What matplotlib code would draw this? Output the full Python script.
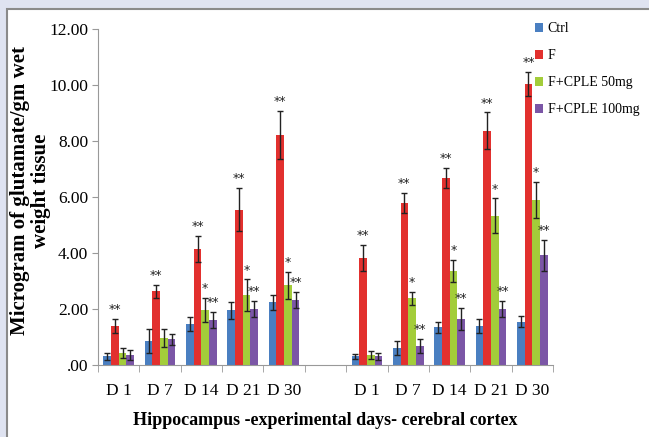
import matplotlib.pyplot as plt
import numpy as np

# days on the x axis, a blank slot separates hippocampus and cortex
days = ["D 1", "D 7", "D 14", "D 21", "D 30", "", "D 1", "D 7", "D 14", "D 21", "D 30"]
groups = ["Ctrl", "F", "F+CPLE 50mg", "F+CPLE 100mg"]

ctrl = [0.31, 0.87, 1.46, 1.96, 2.24, np.nan, 0.31, 0.61, 1.34, 1.40, 1.55]
ctrl_err = [0.12, 0.43, 0.24, 0.30, 0.26, np.nan, 0.10, 0.26, 0.21, 0.24, 0.19]
fluor = [1.40, 2.63, 4.15, 5.55, 8.21, np.nan, 3.82, 5.78, 6.67, 8.36, 10.05]
fluor_err = [0.25, 0.22, 0.46, 0.78, 0.87, np.nan, 0.47, 0.36, 0.36, 0.66, 0.43]
cple50 = [0.42, 0.97, 1.96, 2.49, 2.84, np.nan, 0.36, 2.38, 3.36, 5.33, 5.89]
cple50_err = [0.18, 0.33, 0.43, 0.57, 0.49, np.nan, 0.15, 0.24, 0.38, 0.62, 0.65]
cple100 = [0.36, 0.92, 1.61, 2.00, 2.33, np.nan, 0.31, 0.68, 1.64, 2.00, 3.92]
cple100_err = [0.18, 0.19, 0.29, 0.30, 0.29, np.nan, 0.13, 0.25, 0.39, 0.30, 0.56]

# significance marks
ctrl_sig = [""] * 11
fluor_sig = ["**"] * 5 + [""] + ["**"] * 5
cple50_sig = ["", "", "*", "*", "*", "", "", "*", "*", "*", "*"]
cple100_sig = ["", "", "**", "**", "**", "", "", "**", "**", "**", "**"]

values = [ctrl, fluor, cple50, cple100]
errors = [ctrl_err, fluor_err, cple50_err, cple100_err]
sigs = [ctrl_sig, fluor_sig, cple50_sig, cple100_sig]
colors = ["#4a7fc1", "#e2302e", "#a3cd3a", "#7b56a6"]

serif = ["Liberation Serif", "DejaVu Serif"]

fig = plt.figure(figsize=(6.49, 4.37), dpi=100)
fig.patch.set_facecolor("white")
# lavender strip and gray frame of the original figure
fig.add_artist(plt.Rectangle((0, 0), 1, 1, transform=fig.transFigure,
                             facecolor="#dfe3f1", edgecolor="none", zorder=-3))
fig.add_artist(plt.Rectangle((7 / 649, -0.1), 1.1, 1 - 9 / 437 + 0.1, transform=fig.transFigure,
                             facecolor="white", edgecolor="#8a8a8a", linewidth=1.5, zorder=-2))

ax = fig.add_axes([98 / 649, 1 - 365 / 437, 455 / 649, 336 / 437])
ax.set_facecolor("none")

x = np.arange(len(days))
w = 0.185
for i in range(4):
    pos = x + (i - 1.5) * w
    ax.bar(pos, values[i], w, color=colors[i], label=groups[i],
           yerr=errors[i], capsize=2.5, error_kw=dict(elinewidth=1, ecolor="#222222", capthick=1))
    for p, v, e, s in zip(pos, values[i], errors[i], sigs[i]):
        if s:
            ax.text(p, v + e + 0.1, s, ha="center", va="bottom", fontsize=9,
                    color="#222222", family="DejaVu Sans")

ax.set_xlim(-0.5, len(days) - 0.5)
ax.set_ylim(0, 12)
ax.set_yticks(np.arange(0, 13, 2))
ax.set_yticklabels([".00", "2.00", "4.00", "6.00", "8.00", "10.00", "12.00"],
                   family=serif, fontsize=12.5)
ax.set_xticks(x)
ax.set_xticklabels(days, family=serif, fontsize=12.5)
ax.set_xticks(np.arange(-0.5, len(days)), minor=True)
ax.tick_params(axis="x", which="major", length=0, pad=13)
ax.tick_params(axis="x", which="minor", length=5, color="#999999")
ax.tick_params(axis="y", length=4, color="#999999", pad=3)

for side in ["top", "right"]:
    ax.spines[side].set_visible(False)
for side in ["left", "bottom"]:
    ax.spines[side].set_color("#999999")

ax.set_xlabel("Hippocampus -experimental days- cerebral cortex", family=serif,
              fontsize=13, fontweight="bold", labelpad=9)
ax.set_ylabel("Microgram of glutamate/gm wet\nweight tissue", family=serif,
              fontsize=15, fontweight="bold", linespacing=1.05)
ax.yaxis.set_label_coords(-0.103, 0.518)

fig.legend(loc="upper left", bbox_to_anchor=(522 / 649, 1 - 10 / 437), frameon=False,
           prop=dict(family=serif, size=10), handlelength=0.6, handleheight=0.6,
           handletextpad=0.35, labelspacing=1.0)

fig.savefig("out.png", dpi=100)
